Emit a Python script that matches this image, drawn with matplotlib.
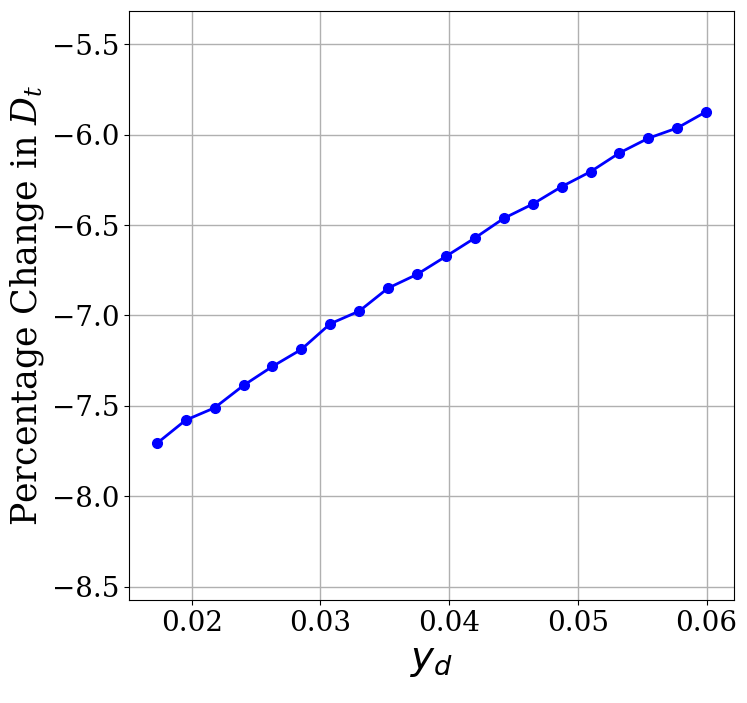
import matplotlib
matplotlib.use("Agg")
import matplotlib.pyplot as plt

y_d = [0.01728, 0.01953, 0.02177, 0.02402, 0.02627, 0.02851, 0.03076, 0.03301,
       0.03525, 0.03750, 0.03975, 0.04199, 0.04424, 0.04649, 0.04873, 0.05098,
       0.05323, 0.05547, 0.05772, 0.05997]
pct_change = [-7.708, -7.579, -7.511, -7.387, -7.282, -7.188, -7.046, -6.976,
              -6.849, -6.773, -6.673, -6.572, -6.463, -6.384, -6.288, -6.205,
              -6.101, -6.020, -5.963, -5.873]
xticks = [0.02, 0.03, 0.04, 0.05, 0.06]
yticks = [-8.5, -8.0, -7.5, -7.0, -6.5, -6.0, -5.5]

plt.rcParams['font.family'] = ['DejaVu Serif']

fig = plt.figure(figsize=(7.47, 7.03), dpi=100)
ax = fig.add_axes([0.1731, 0.1465, 0.9822 - 0.1731, 0.9844 - 0.1465])
ax.plot(y_d, pct_change, color='blue', marker='o', markersize=7, linewidth=2)
ax.set_ylim(-8.574, -5.316)
ax.set_xticks(xticks)
ax.set_yticks(yticks)
ax.set_xticklabels([f"{t:.2f}" for t in xticks])
ax.set_yticklabels([f"\u2212{abs(t):.1f}" for t in yticks])
ax.tick_params(labelsize=20)
ax.grid(True, color='#b0b0b0', linewidth=1)
ax.set_axisbelow(True)
ax.set_xlabel(r"$y_d$", fontsize=28, math_fontfamily='dejavusans')
ax.set_ylabel(r"Percentage Change in $D_t$", fontsize=25, math_fontfamily='dejavuserif')
fig.savefig("out.png", dpi=100)
